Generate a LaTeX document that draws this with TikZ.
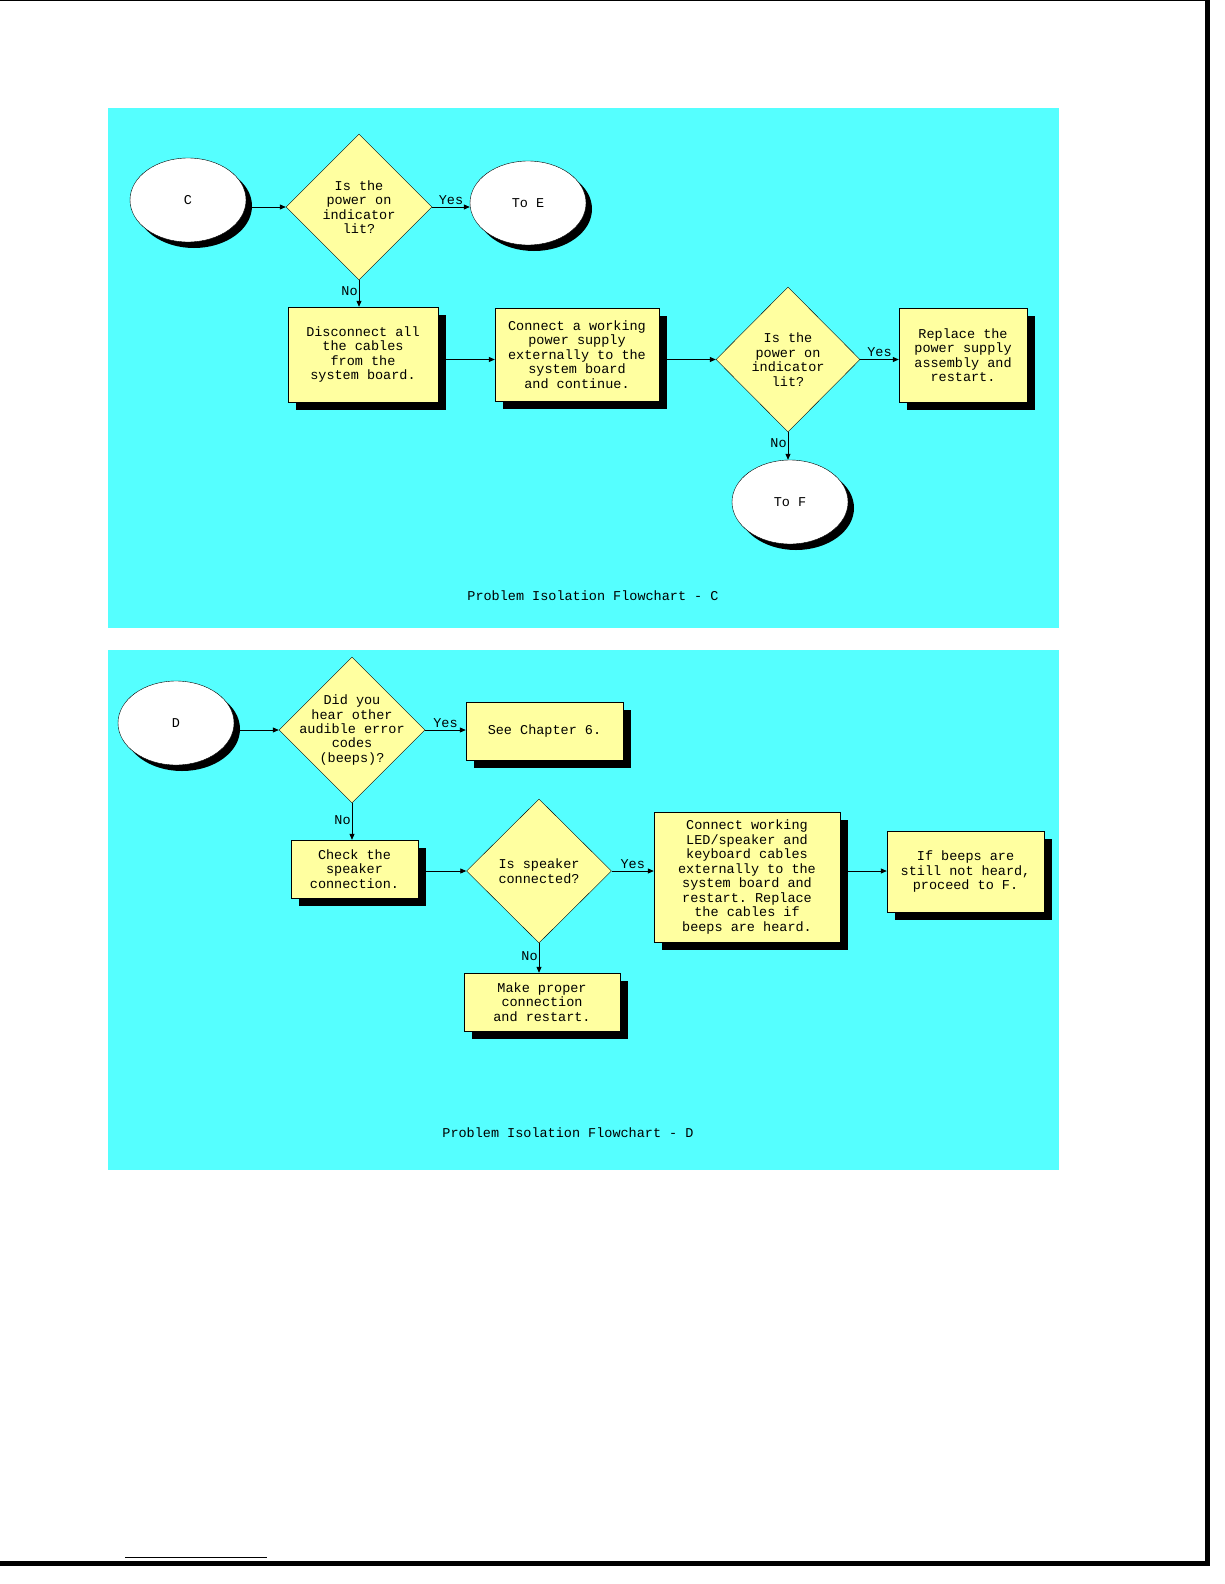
\documentclass[tikz,border=0pt]{standalone}
\usepackage{fontspec}
\setmonofont{Liberation Mono}
\usetikzlibrary{shapes.geometric,shadows,arrows.meta}
\definecolor{panel}{RGB}{85,255,255}
\definecolor{boxy}{RGB}{255,255,160}
\tikzset{
 every node/.style={font=\ttfamily\fontsize{13.5}{14.5}\selectfont},
 shad/.style={drop shadow={shadow xshift=8pt,shadow yshift=-8pt,fill=black,opacity=1}},
 proc/.style={draw=black,fill=boxy,shad,align=center,inner sep=0pt},
 dec/.style={diamond,draw=black,fill=boxy,aspect=1,inner sep=-8pt,align=center,minimum width=146pt,minimum height=146pt},
 term/.style={ellipse,draw=black,fill=white,drop shadow={shadow xshift=6pt,shadow yshift=-6pt,fill=black,opacity=1},minimum width=116pt,minimum height=84pt,inner sep=0pt},
 arr/.style={-{Triangle[length=6pt,width=5pt]},thick},
 lbl/.style={inner sep=1pt,above=1pt}
}
\begin{document}
\begin{tikzpicture}[x=1pt,y=-1pt]
\fill[white] (0,0) rectangle (1224,1584);
\draw[line width=1pt] (0,0.5) -- (1207,0.5);
\fill[black] (1205,0) rectangle (1210,1566);
\fill[black] (0,1561) rectangle (1210,1566);
\draw (125,1557) -- (267,1557);
\fill[panel] (108,108) rectangle (1059,628);
\fill[panel] (108,650) rectangle (1059,1170);
% Panel C
\node[term] (c) at (188,200) {C};
\node[dec] (d1) at (359,207) {Is the\\power on\\indicator\\lit?};
\node[term] (toe) at (528,203) {To E};
\node[proc,minimum width=150pt,minimum height=95pt] (b1) at (363,354.5) {Disconnect all\\the cables\\from the\\system board.};
\node[proc,minimum width=164pt,minimum height=93pt] (b2) at (577,354.5) {Connect a working\\power supply\\externally to the\\system board\\and continue.};
\node[dec,minimum width=144pt,minimum height=145pt] (d2) at (788,359.5) {Is the\\power on\\indicator\\lit?};
\node[proc,minimum width=128pt,minimum height=94pt] (b3) at (963,355) {Replace the\\power supply\\assembly and\\restart.};
\node[term] (tof) at (790,502) {To F};
\draw[arr] (c.east|-d1) -- (d1.west);
\draw[arr] (d1.east) -- node[lbl]{Yes} (toe.west|-d1);
\draw[arr] (d1.south) -- node[inner sep=1pt,left,pos=0.4]{No} (d1.south|-b1.north);
\draw[arr] (b1.east|-d2) -- (b2.west|-d2);
\draw[arr] (b2.east|-d2) -- (d2.west);
\draw[arr] (d2.east) -- node[lbl]{Yes} (b3.west|-d2);
\draw[arr] (d2.south) -- node[inner sep=1pt,left,pos=0.4]{No} (d2.south|-tof.north);
\node (capc) at (593,596) {Problem Isolation Flowchart - C};
% Panel D
\node[term] (dd) at (176,723) {D};
\node[dec,inner sep=-14pt] (e1) at (352,730) {Did you\\hear other\\audible error\\codes\\(beeps)?};
\node[proc,minimum width=157pt,minimum height=58pt] (ch6) at (544.5,731) {See Chapter 6.};
\node[proc,minimum width=127pt,minimum height=58pt] (chk) at (354.5,869) {Check the\\speaker\\connection.};
\node[dec,minimum width=145pt,minimum height=144pt] (e2) at (539,871) {Is speaker\\connected?};
\node[proc,minimum width=186pt,minimum height=130pt] (cw) at (747,877) {Connect working\\LED/speaker and\\keyboard cables\\externally to the\\system board and\\restart.  Replace\\the cables if\\beeps are heard.};
\node[proc,minimum width=157pt,minimum height=81pt] (ifb) at (965.5,871.5) {If beeps are\\still not heard,\\proceed to F.};
\node[proc,minimum width=156pt,minimum height=58pt] (mk) at (542,1002) {Make proper\\connection\\and restart.};
\draw[arr] (dd.east|-e1) -- (e1.west);
\draw[arr] (e1.east) -- node[lbl]{Yes} (ch6.west|-e1);
\draw[arr] (e1.south) -- node[inner sep=1pt,left,pos=0.45]{No} (e1.south|-chk.north);
\draw[arr] (chk.east|-e2) -- (e2.west);
\draw[arr] (e2.east) -- node[lbl]{Yes} (cw.west|-e2);
\draw[arr] (cw.east|-e2) -- (ifb.west|-e2);
\draw[arr] (e2.south) -- node[inner sep=1pt,left,pos=0.45]{No} (e2.south|-mk.north);
\node (capd) at (568,1133) {Problem Isolation Flowchart - D};
\pgfresetboundingbox
\useasboundingbox (0,0) rectangle (1224,1584);
\end{tikzpicture}
\end{document}
